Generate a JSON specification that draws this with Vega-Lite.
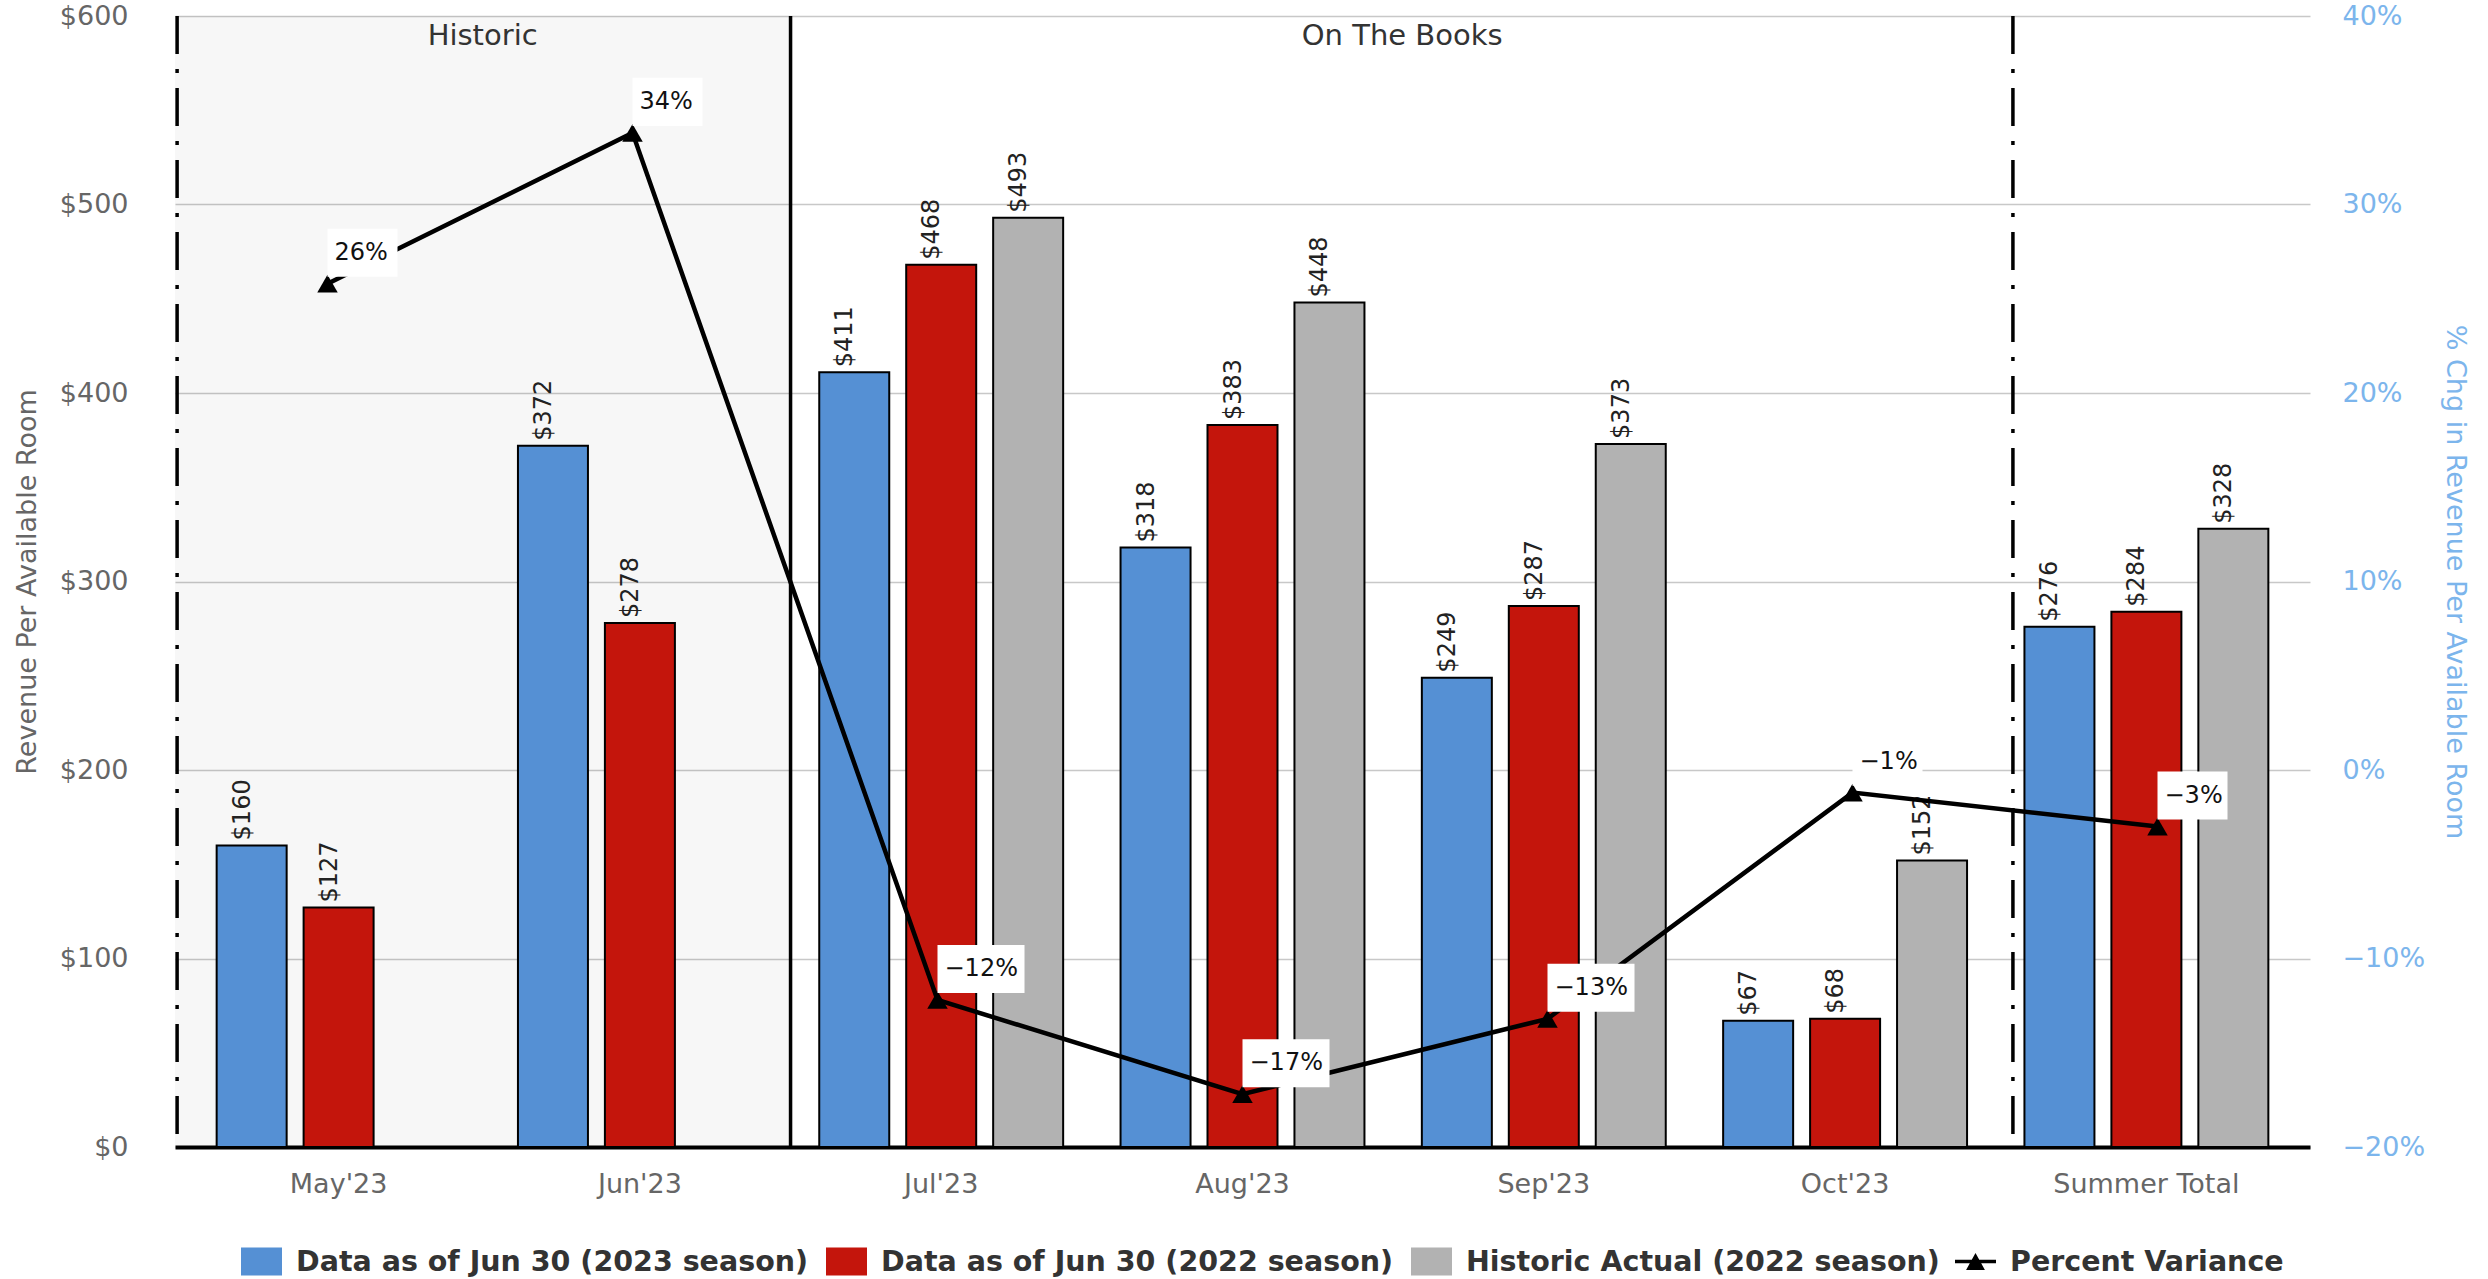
{
  "$schema": "https://vega.github.io/schema/vega-lite/v6.json",
  "autosize": "none",
  "width": 2135,
  "height": 1131,
  "padding": {"left": 175, "top": 16, "right": 178, "bottom": 132},
  "background": "white",
  "config": {"font": "DejaVu Sans", "view": {"stroke": null}},
  "datasets": {
    "bars": [
      {"month": "May'23", "series": "Data as of Jun 30 (2023 season)", "value": 160},
      {"month": "May'23", "series": "Data as of Jun 30 (2022 season)", "value": 127},
      {"month": "Jun'23", "series": "Data as of Jun 30 (2023 season)", "value": 372},
      {"month": "Jun'23", "series": "Data as of Jun 30 (2022 season)", "value": 278},
      {"month": "Jul'23", "series": "Data as of Jun 30 (2023 season)", "value": 411},
      {"month": "Jul'23", "series": "Data as of Jun 30 (2022 season)", "value": 468},
      {"month": "Jul'23", "series": "Historic Actual (2022 season)", "value": 493},
      {"month": "Aug'23", "series": "Data as of Jun 30 (2023 season)", "value": 318},
      {"month": "Aug'23", "series": "Data as of Jun 30 (2022 season)", "value": 383},
      {"month": "Aug'23", "series": "Historic Actual (2022 season)", "value": 448},
      {"month": "Sep'23", "series": "Data as of Jun 30 (2023 season)", "value": 249},
      {"month": "Sep'23", "series": "Data as of Jun 30 (2022 season)", "value": 287},
      {"month": "Sep'23", "series": "Historic Actual (2022 season)", "value": 373},
      {"month": "Oct'23", "series": "Data as of Jun 30 (2023 season)", "value": 67},
      {"month": "Oct'23", "series": "Data as of Jun 30 (2022 season)", "value": 68},
      {"month": "Oct'23", "series": "Historic Actual (2022 season)", "value": 152},
      {"month": "Summer Total", "series": "Data as of Jun 30 (2023 season)", "value": 276},
      {"month": "Summer Total", "series": "Data as of Jun 30 (2022 season)", "value": 284},
      {"month": "Summer Total", "series": "Historic Actual (2022 season)", "value": 328}
    ],
    "pct": [
      {"month": "May'23", "pct": 0.258},
      {"month": "Jun'23", "pct": 0.338},
      {"month": "Jul'23", "pct": -0.122},
      {"month": "Aug'23", "pct": -0.172},
      {"month": "Sep'23", "pct": -0.132},
      {"month": "Oct'23", "pct": -0.012},
      {"month": "Summer Total", "pct": -0.03}
    ]
  },
  "resolve": {"scale": {"x": "independent", "y": "independent"}},
  "layer": [
    {
      "layer": [
        {
          "data": {"values": [{"start": -0.543, "end": 1.5}]},
          "mark": {"type": "rect", "fill": "#000000", "fillOpacity": 0.031},
          "encoding": {
            "x": {"field": "start", "type": "quantitative", "scale": {"domain": [-0.543, 6.543], "nice": false, "zero": false}, "axis": null},
            "x2": {"field": "end"},
            "y": {"value": 0},
            "y2": {"value": "height"}
          }
        },
        {
          "data": {"values": [{"pos": -0.536}, {"pos": 5.557}]},
          "mark": {"type": "rule", "color": "black", "strokeWidth": 3.5, "strokeDash": [38, 15, 4, 15]},
          "encoding": {"x": {"field": "pos", "type": "quantitative"}}
        },
        {
          "data": {"values": [{"pos": 1.5}]},
          "mark": {"type": "rule", "color": "black", "strokeWidth": 3.5},
          "encoding": {"x": {"field": "pos", "type": "quantitative"}}
        },
        {
          "data": {"values": [{"section": "Historic", "pos": 0.478}, {"section": "On The Books", "pos": 3.53}]},
          "mark": {"type": "text", "fontSize": 29, "color": "#333333", "baseline": "middle", "align": "center", "dy": 20},
          "encoding": {
            "x": {"field": "pos", "type": "quantitative"},
            "y": {"datum": 600, "type": "quantitative", "scale": {"domain": [0, 600], "nice": false}, "axis": null},
            "text": {"field": "section"}
          }
        }
      ]
    },
    {
      "data": {"name": "bars"},
      "encoding": {
        "x": {
          "field": "month", "type": "nominal", "sort": null, "title": null,
          "scale": {"domain": ["May'23", "Jun'23", "Jul'23", "Aug'23", "Sep'23", "Oct'23", "Summer Total"], "paddingInner": 0, "paddingOuter": 0.043},
          "axis": {"orient": "bottom", "domain": true, "domainColor": "black", "domainWidth": 4, "ticks": false, "tickSize": 0, "labelAngle": 0, "labelFontSize": 27, "labelColor": "#666666", "labelPadding": 24, "labelLimit": 0, "grid": false}
        },
        "xOffset": {
          "field": "series", "type": "nominal",
          "scale": {"domain": ["Data as of Jun 30 (2023 season)", "Data as of Jun 30 (2022 season)", "Historic Actual (2022 season)"], "paddingInner": 0.195, "paddingOuter": 0.33}
        },
        "y": {
          "field": "value", "type": "quantitative", "title": "Revenue Per Available Room",
          "scale": {"domain": [0, 600], "nice": false},
          "axis": {"orient": "left", "values": [0, 100, 200, 300, 400, 500, 600], "format": "$,.0f", "domain": false, "ticks": false, "tickSize": 0, "grid": true, "gridColor": "#c8c8c8", "gridWidth": 1.5, "labelFontSize": 27, "labelColor": "#666666", "labelPadding": 47, "titleFontSize": 27, "titleColor": "#666666", "titleFontWeight": "normal", "titlePadding": 18}
        }
      },
      "layer": [
        {
          "mark": {"type": "bar", "stroke": "black", "strokeWidth": 2},
          "encoding": {
            "color": {
              "field": "series", "type": "nominal",
              "scale": {"domain": ["Data as of Jun 30 (2023 season)", "Data as of Jun 30 (2022 season)", "Historic Actual (2022 season)"], "range": ["#5590d4", "#c4150c", "#b2b2b2"]},
              "legend": {
                "title": null, "orient": "none", "legendX": 66, "legendY": 1225, "direction": "horizontal", "columns": 3,
                "symbolType": "M-1,-0.68H1V0.68H-1Z", "symbolSize": 1681, "symbolStrokeWidth": 0,
                "labelFontSize": 28.5, "labelFontWeight": "bold", "labelColor": "#333333", "labelOffset": 14, "columnPadding": 17, "labelLimit": 0
              }
            }
          }
        },
        {
          "mark": {"type": "text", "angle": 270, "align": "left", "baseline": "middle", "dx": 5, "dy": -9, "fontSize": 24, "color": "#222222"},
          "encoding": {"text": {"field": "value", "type": "quantitative", "format": "$,.0f"}}
        }
      ]
    },
    {
      "data": {"name": "pct"},
      "encoding": {
        "x": {
          "field": "month", "type": "nominal", "sort": null,
          "scale": {"domain": ["May'23", "Jun'23", "Jul'23", "Aug'23", "Sep'23", "Oct'23", "Summer Total"], "paddingInner": 0, "paddingOuter": 0.043},
          "axis": null
        },
        "y": {
          "field": "pct", "type": "quantitative", "title": "% Chg in Revenue Per Available Room",
          "scale": {"domain": [-0.2, 0.4], "nice": false, "zero": false},
          "axis": {"orient": "right", "values": [-0.2, -0.1, 0, 0.1, 0.2, 0.3, 0.4], "format": ".0%", "domain": false, "ticks": false, "tickSize": 0, "grid": false, "labelFontSize": 27, "labelColor": "#7cb5ec", "labelPadding": 32, "titleFontSize": 27, "titleColor": "#7cb5ec", "titleFontWeight": "normal", "titlePadding": 16}
        }
      },
      "layer": [
        {"mark": {"type": "line", "color": "black", "strokeWidth": 4.5}},
        {
          "mark": {"type": "point", "shape": "triangle-up", "filled": true, "color": "black", "size": 420},
          "encoding": {
            "opacity": {
              "datum": "Percent Variance", "type": "nominal",
              "scale": {"domain": ["Percent Variance"], "range": [1]},
              "legend": {
                "title": null, "orient": "none", "legendX": 1780, "legendY": 1225, "direction": "horizontal",
                "symbolType": "M-1,-0.085H1V0.085H-1Z M0,-0.42L0.46,0.42L-0.46,0.42Z", "symbolSize": 1681, "symbolFillColor": "black", "symbolStrokeWidth": 0, "symbolOpacity": 1,
                "labelFontSize": 28.5, "labelFontWeight": "bold", "labelColor": "#333333", "labelOffset": 14, "labelLimit": 0
              }
            }
          }
        },
        {
          "transform": [{"filter": "datum.pct <= -0.095"}],
          "mark": {"type": "point", "shape": "M-1,-0.552H1V0.552H-1Z", "filled": true, "color": "white", "opacity": 1, "size": 7569, "xOffset": 43.5, "yOffset": -31}
        },
        {
          "transform": [{"filter": "datum.pct > -0.095"}],
          "mark": {"type": "point", "shape": "M-1,-0.686H1V0.686H-1Z", "filled": true, "color": "white", "opacity": 1, "size": 4900, "xOffset": 35, "yOffset": -31}
        },
        {
          "mark": {"type": "text", "fontSize": 24, "color": "#111111", "align": "left", "baseline": "middle", "dx": 7, "dy": -31},
          "encoding": {"text": {"field": "pct", "type": "quantitative", "format": ".0%"}}
        }
      ]
    }
  ]
}
